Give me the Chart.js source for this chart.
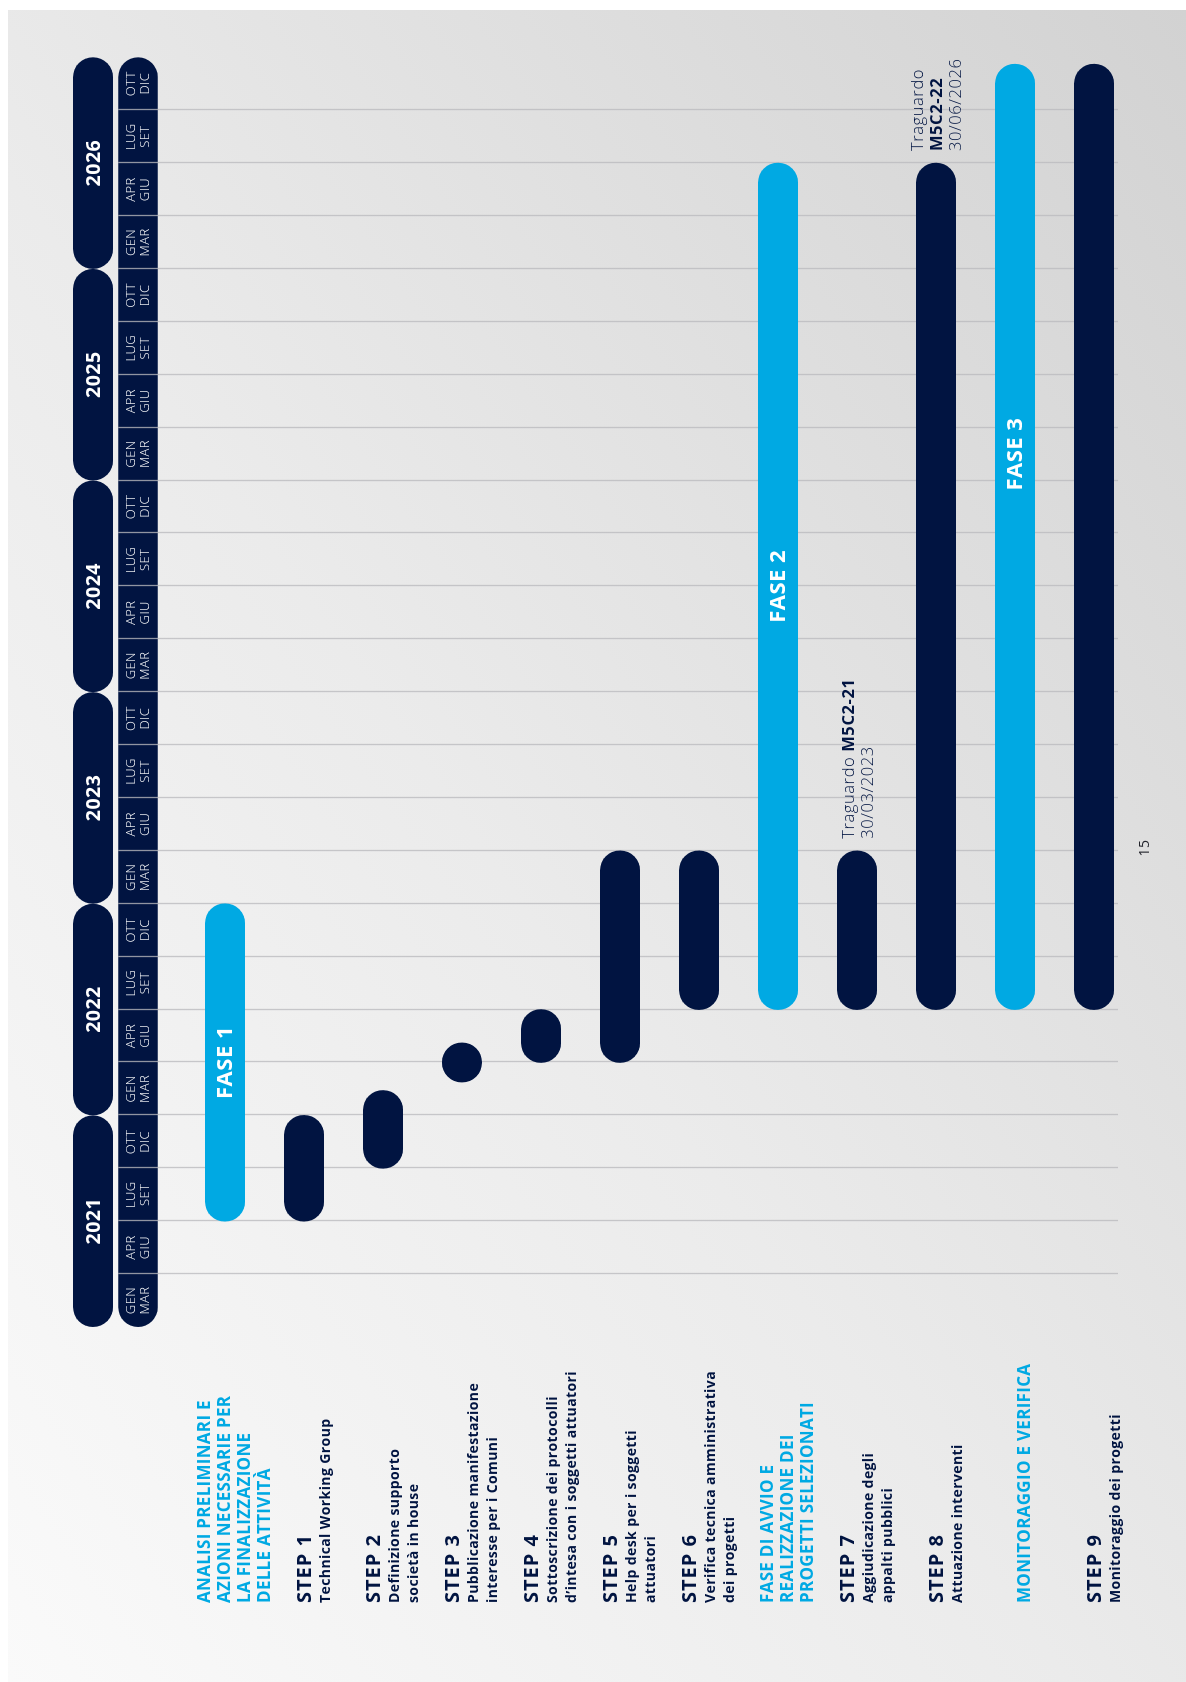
<!DOCTYPE html>
<html>
<head>
<meta charset="utf-8">
<script src="https://cdn.jsdelivr.net/npm/chart.js@4/dist/chart.umd.min.js"></script>
<style>
  html, body { margin:0; padding:0; width:1186px; height:1682px; overflow:hidden; background:#ffffff; }
  #page { position:absolute; left:8px; top:10px; right:0; bottom:0;
          background: linear-gradient(to top right, #fafafa 0%, #ebebeb 45%, #d2d2d2 100%); }
  #chart { position:absolute; left:0; top:0; transform-origin:0 0;
           transform: translate(0px, 1682px) rotate(-90deg); }
</style>
</head>
<body>
<div id="page"></div>
<canvas id="chart" width="1682" height="1186"></canvas>
<script>
// ---------------- DATA ----------------
// time unit: quarters since January 2021 (0 = start of Jan 2021, 24 = end of Dec 2026)
const categories = ['Analisi preliminari', 'STEP 1', 'STEP 2', 'STEP 3', 'STEP 4', 'STEP 5', 'STEP 6',
                    'Fase di avvio', 'STEP 7', 'STEP 8', 'Monitoraggio e verifica', 'STEP 9'];
const labelLines = [
  ['ANALISI PRELIMINARI E', 'AZIONI NECESSARIE PER', 'LA FINALIZZAZIONE', 'DELLE ATTIVITÀ'],
  ['STEP 1', 'Technical Working Group'],
  ['STEP 2', 'Definizione supporto', 'società in house'],
  ['STEP 3', 'Pubblicazione manifestazione', 'interesse per i Comuni'],
  ['STEP 4', 'Sottoscrizione dei protocolli', 'd’intesa con i soggetti attuatori'],
  ['STEP 5', 'Help desk per i soggetti', 'attuatori'],
  ['STEP 6', 'Verifica tecnica amministrativa', 'dei progetti'],
  ['FASE DI AVVIO E', 'REALIZZAZIONE DEI', 'PROGETTI SELEZIONATI'],
  ['STEP 7', 'Aggiudicazione degli', 'appalti pubblici'],
  ['STEP 8', 'Attuazione interventi'],
  ['MONITORAGGIO E VERIFICA'],
  ['STEP 9', 'Monitoraggio dei progetti']
];
const isPhase = [true, false, false, false, false, false, false, true, false, false, true, false];
const startQ  = [2, 2, 3,    4.63, 5, 5, 6, 6,  6, 6,  6,     6];
const endQ    = [8, 4, 4.47, 5.37, 6, 9, 9, 22, 9, 22, 23.87, 23.87];

const phaseNames   = ['FASE 1', 'FASE 2', 'FASE 3'];
const phaseTask    = [0, 7, 10];
const phaseLabelAt = [5, 14, 16.5];

const years = ['2021', '2022', '2023', '2024', '2025', '2026'];
const quarterNames = [['GEN', 'MAR'], ['APR', 'GIU'], ['LUG', 'SET'], ['OTT', 'DIC']];

const milestoneTask = [8, 9];
const milestoneAt   = [9, 22];
const milestoneLines = [
  [[['Traguardo ', false], ['M5C2-21', true]], [['30/03/2023', false]]],
  [[['Traguardo', false]], [['M5C2-22', true]], [['30/06/2026', false]]]
];
const pageNumber = '15';

// ---------------- STYLE ----------------
const NAVY = '#011441';
const LIGHT = '#00a9e3';
const FONT = '"Open Sans", "Noto Sans", sans-serif';

function pillPath(ctx, x, y, w, h) {
  const r = Math.min(w, h) / 2;
  ctx.beginPath();
  ctx.moveTo(x + r, y);
  ctx.lineTo(x + w - r, y);
  ctx.arc(x + w - r, y + r, r, -Math.PI / 2, Math.PI / 2);
  ctx.lineTo(x + r, y + h);
  ctx.arc(x + r, y + r, r, Math.PI / 2, Math.PI * 1.5);
  ctx.closePath();
}
function spacing(ctx, px) { if ('letterSpacing' in ctx) ctx.letterSpacing = px + 'px'; }

const decor = {
  id: 'decor',
  beforeDatasetsDraw(chart) {
    const ctx = chart.ctx;
    const xs = chart.scales.x, ys = chart.scales.y;
    ctx.save();
    // year pills
    years.forEach((yr, k) => {
      const u0 = xs.getPixelForValue(4 * k), u1 = xs.getPixelForValue(4 * k + 4);
      pillPath(ctx, u0, 73, u1 - u0, 40);
      ctx.fillStyle = NAVY; ctx.fill();
      ctx.fillStyle = '#ffffff';
      ctx.font = '700 19.5px ' + FONT;
      spacing(ctx, 0.5);
      ctx.textAlign = 'center'; ctx.textBaseline = 'middle';
      ctx.fillText(yr, (u0 + u1) / 2, 94);
    });
    // quarter pill
    const q0 = xs.getPixelForValue(0), q1 = xs.getPixelForValue(24);
    pillPath(ctx, q0, 118.3, q1 - q0, 39.5);
    ctx.fillStyle = NAVY; ctx.fill();
    ctx.fillStyle = '#ffffff';
    ctx.font = '300 13px ' + FONT;
    spacing(ctx, 0.4);
    ctx.textAlign = 'center'; ctx.textBaseline = 'alphabetic';
    for (let q = 0; q < 24; q++) {
      const u = xs.getPixelForValue(q + 0.5);
      const nm = quarterNames[q % 4];
      ctx.fillText(nm[0], u, 135);
      ctx.fillText(nm[1], u, 149);
    }
    // grid lines
    ctx.strokeStyle = 'rgba(186,186,190,0.78)';
    ctx.lineWidth = 1.3;
    for (let k = 1; k < 24; k++) {
      const u = Math.round(xs.getPixelForValue(k)) + 0.5;
      ctx.beginPath(); ctx.moveTo(u, 118.3); ctx.lineTo(u, 1118); ctx.stroke();
    }
    // task labels
    ctx.textAlign = 'left'; ctx.textBaseline = 'alphabetic';
    labelLines.forEach((lines, i) => {
      const c = ys.getPixelForValue(i) + 9;
      const u = 79;
      if (isPhase[i]) {
        const n = lines.length;
        const b = c + 6 - 10 * (n - 1);
        ctx.fillStyle = LIGHT;
        ctx.font = '700 17px ' + FONT;
        spacing(ctx, 0.3);
        lines.forEach((t, j) => ctx.fillText(t, u, b + 20 * j));
      } else {
        const nsub = lines.length - 1;
        const b = c + 7 - 19 * nsub / 2;
        ctx.fillStyle = NAVY;
        ctx.font = '700 20px ' + FONT;
        spacing(ctx, 1);
        ctx.fillText(lines[0], u, b);
        ctx.font = '700 14px ' + FONT;
        spacing(ctx, 0.4);
        for (let j = 1; j < lines.length; j++) ctx.fillText(lines[j], u, b + 19 * j);
      }
    });
    ctx.restore();
  },
  afterDatasetsDraw(chart) {
    const ctx = chart.ctx;
    const xs = chart.scales.x, ys = chart.scales.y;
    ctx.save();
    // phase names inside bars
    ctx.fillStyle = '#ffffff';
    ctx.font = '700 22px ' + FONT;
    spacing(ctx, 0.5);
    ctx.textAlign = 'center'; ctx.textBaseline = 'middle';
    phaseNames.forEach((p, k) => {
      ctx.fillText(p, xs.getPixelForValue(phaseLabelAt[k]), ys.getPixelForValue(phaseTask[k]) + 1);
    });
    // milestones
    ctx.textAlign = 'left'; ctx.textBaseline = 'alphabetic';
    ctx.fillStyle = NAVY;
    spacing(ctx, 0.6);
    milestoneLines.forEach((lines, k) => {
      const c = ys.getPixelForValue(milestoneTask[k]);
      const u0 = xs.getPixelForValue(milestoneAt[k]) + 12;
      const n = lines.length;
      lines.forEach((segs, j) => {
        const b = c + 19 * j - 19 * (n - 1) / 2 + 6;
        let u = u0;
        segs.forEach(([t, bold]) => {
          ctx.font = (bold ? '700 ' : '300 ') + '16.5px ' + FONT;
          ctx.fillText(t, u, b);
          u += ctx.measureText(t).width;
        });
      });
    });
    // page number
    ctx.fillStyle = '#22232b';
    ctx.font = '400 14px ' + FONT;
    spacing(ctx, 0.5);
    ctx.textAlign = 'center'; ctx.textBaseline = 'middle';
    ctx.fillText(pageNumber, chart.width - 848, 1145);
    ctx.restore();
  }
};

new Chart(document.getElementById('chart'), {
  type: 'bar',
  data: {
    labels: categories,
    datasets: [{
      data: categories.map((c, i) => [startQ[i], endQ[i]]),
      backgroundColor: (cx) => isPhase[cx.dataIndex] ? LIGHT : NAVY,
      barThickness: 39.5,
      borderRadius: 40,
      borderSkipped: false,
      borderWidth: 0
    }]
  },
  options: {
    indexAxis: 'y',
    responsive: false,
    animation: false,
    devicePixelRatio: 1,
    layout: { padding: { left: 355, right: 57.3, top: 185.5, bottom: 52.5 } },
    scales: {
      x: { type: 'linear', min: 0, max: 24, display: false },
      y: { type: 'category', offset: true, display: false }
    },
    plugins: { legend: { display: false }, tooltip: { enabled: false } }
  },
  plugins: [decor]
});
</script>
</body>
</html>
